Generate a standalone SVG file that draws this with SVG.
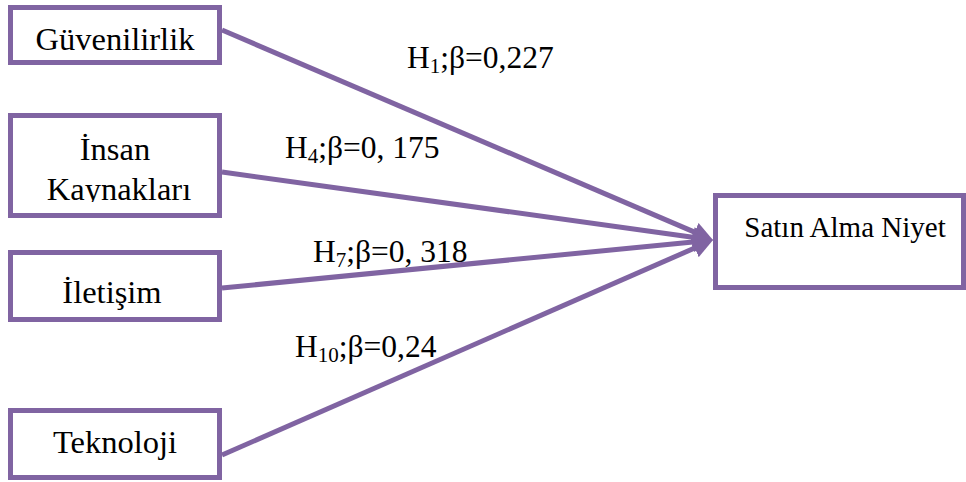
<svg xmlns="http://www.w3.org/2000/svg" width="966" height="482" viewBox="0 0 966 482">
  <style>
    .box { fill: #ffffff; stroke: #8064A2; stroke-width: 5; }
    .t { font-family: "Liberation Serif", "Times New Roman", serif; font-size: 32.5px; fill: #000000; }
    .t2 { font-family: "Liberation Serif", "Times New Roman", serif; font-size: 29px; fill: #000000; }
    .lbl { font-family: "Liberation Serif", "Times New Roman", serif; font-size: 31.5px; fill: #000000; }
    .sub { font-size: 21px; }
    .conn { stroke: #8064A2; stroke-width: 5; fill: none; marker-end: url(#ah); }
  </style>
  <defs>
    <marker id="ah" markerWidth="4" markerHeight="4" refX="1" refY="2" orient="auto" markerUnits="strokeWidth">
      <path d="M0,0 L4,2 L0,4 z" fill="#8064A2"/>
    </marker>
    <clipPath id="clipInsan">
      <rect x="10" y="115" width="210" height="87"/>
    </clipPath>
  </defs>
  <rect width="966" height="482" fill="#ffffff"/>

  <g id="connectors">
    <line class="conn" x1="222" y1="30" x2="699.2" y2="234.1"/>
    <line class="conn" x1="222" y1="172" x2="698.1" y2="237.9"/>
    <line class="conn" x1="222" y1="288" x2="698.1" y2="241.5"/>
    <line class="conn" x1="222" y1="455" x2="699.3" y2="246.0"/>
  </g>

  <g id="guvenilirlik">
    <rect class="box" x="10.5" y="7.5" width="209" height="55"/>
    <text class="t" x="115" y="50" text-anchor="middle">Güvenilirlik</text>
  </g>
  <g id="insan">
    <rect class="box" x="10.5" y="115.5" width="209" height="100"/>
    <g clip-path="url(#clipInsan)">
      <text class="t" x="115" y="160" text-anchor="middle">İnsan</text>
      <text class="t" x="119" y="200" text-anchor="middle">Kaynakları</text>
    </g>
  </g>
  <g id="iletisim">
    <rect class="box" x="10.5" y="252.5" width="209" height="67"/>
    <text class="t" x="112" y="303" text-anchor="middle">İletişim</text>
  </g>
  <g id="teknoloji">
    <rect class="box" x="10.5" y="410.5" width="209" height="67"/>
    <text class="t" x="115" y="453" text-anchor="middle">Teknoloji</text>
  </g>
  <g id="satin-alma">
    <rect class="box" x="715.5" y="195.5" width="248" height="92"/>
    <text class="t2" x="845" y="237" text-anchor="middle">Satın Alma Niyet</text>
  </g>

  <g id="labels">
    <text class="lbl" x="407" y="68">H<tspan class="sub" dy="5">1</tspan><tspan dy="-5">;β=0,227</tspan></text>
    <text class="lbl" x="285" y="158">H<tspan class="sub" dy="5">4</tspan><tspan dy="-5">;β=0, 175</tspan></text>
    <text class="lbl" x="313" y="262">H<tspan class="sub" dy="5">7</tspan><tspan dy="-5">;β=0, 318</tspan></text>
    <text class="lbl" x="295" y="357">H<tspan class="sub" dy="5">10</tspan><tspan dy="-5">;β=0,24</tspan></text>
  </g>
</svg>
